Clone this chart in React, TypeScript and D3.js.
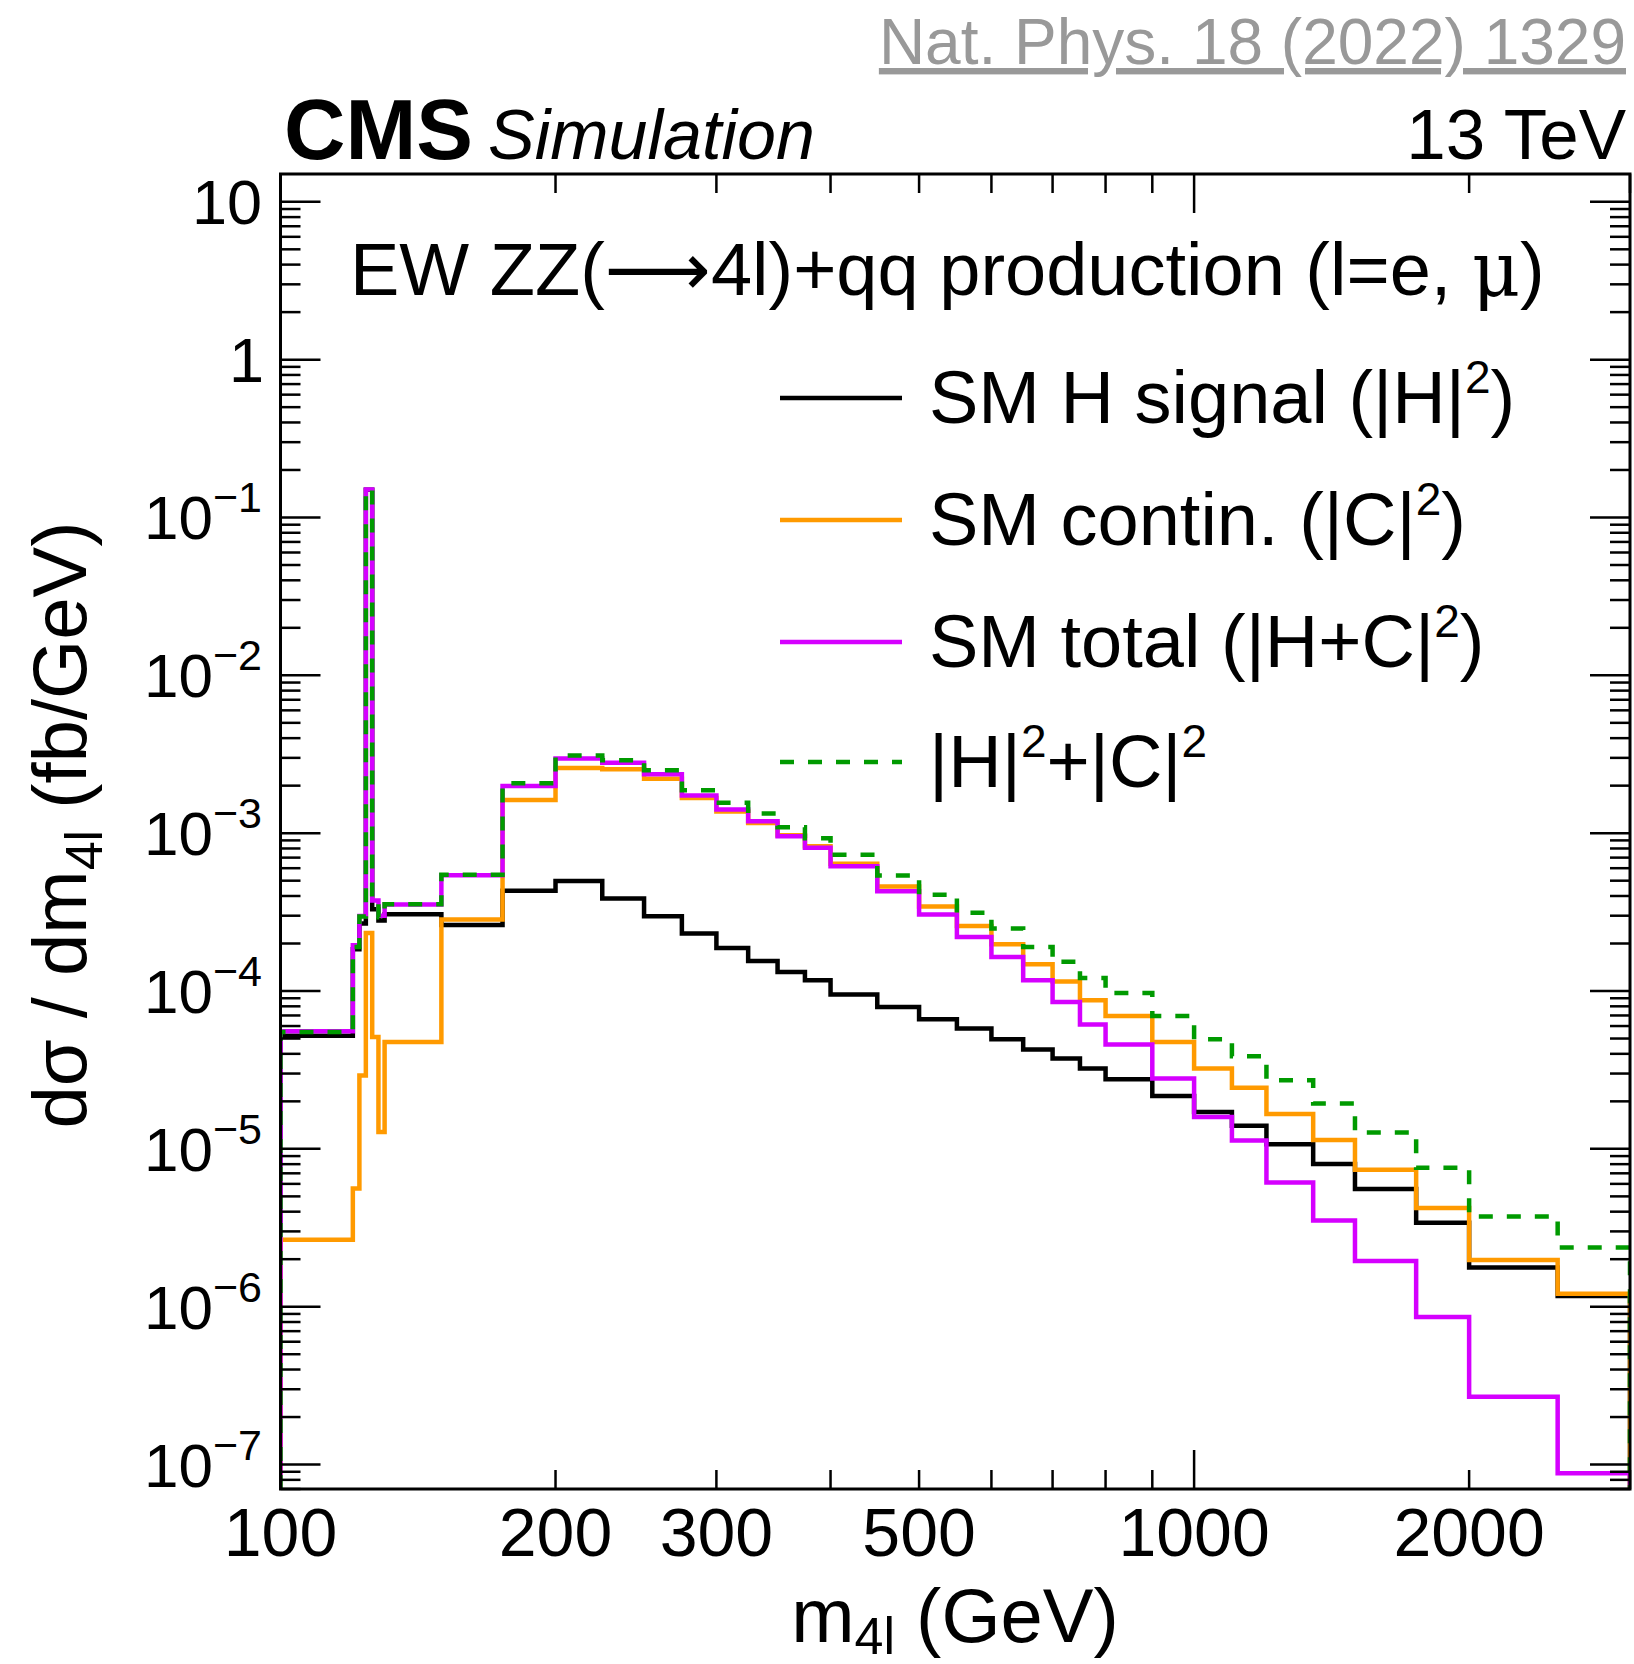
import React from "react";
import * as d3 from "d3";

// bin edges of m4l (GeV)
const binEdges = [100, 120, 122, 124, 126, 128, 130, 150, 175, 200, 225, 250, 275, 300, 325, 350, 375, 400, 450, 500, 550, 600, 650, 700, 750, 800, 900, 1000, 1100, 1200, 1350, 1500, 1750, 2000, 2500, 3000];

// SM H signal |H|^2
const smHSignal = [5.2e-5, 1.84e-4, 2.68e-4, 0.150, 3.3e-4, 2.8e-4, 3.07e-4, 2.62e-4, 4.31e-4, 4.97e-4, 3.85e-4, 2.98e-4, 2.31e-4, 1.87e-4, 1.55e-4, 1.32e-4, 1.17e-4, 9.5e-5, 7.93e-5, 6.62e-5, 5.78e-5, 4.95e-5, 4.26e-5, 3.73e-5, 3.23e-5, 2.76e-5, 2.16e-5, 1.71e-5, 1.4e-5, 1.07e-5, 8.02e-6, 5.57e-6, 3.4e-6, 1.77e-6, 1.17e-6];

// SM continuum |C|^2
const smContin = [2.66e-6, 5.6e-6, 2.92e-5, 2.33e-4, 5.12e-5, 1.28e-5, 4.76e-5, 2.84e-4, 1.62e-3, 2.59e-3, 2.54e-3, 2.21e-3, 1.67e-3, 1.37e-3, 1.16e-3, 9.7e-4, 8.25e-4, 6.4e-4, 4.6e-4, 3.43e-4, 2.58e-4, 1.98e-4, 1.48e-4, 1.15e-4, 8.75e-5, 6.95e-5, 4.75e-5, 3.23e-5, 2.44e-5, 1.66e-5, 1.14e-5, 7.36e-6, 4.22e-6, 1.98e-6, 1.21e-6];

// SM total |H+C|^2
const smTotal = [5.56e-5, 1.95e-4, 2.99e-4, 0.1505, 3.75e-4, 3.0e-4, 3.53e-4, 5.42e-4, 1.99e-3, 2.97e-3, 2.79e-3, 2.36e-3, 1.73e-3, 1.41e-3, 1.19e-3, 9.57e-4, 8.07e-4, 6.18e-4, 4.29e-4, 3.05e-4, 2.2e-4, 1.64e-4, 1.17e-4, 8.53e-5, 6.14e-5, 4.58e-5, 2.79e-5, 1.59e-5, 1.13e-5, 6.12e-6, 3.52e-6, 1.95e-6, 8.59e-7, 2.69e-7, 8.8e-8];

// |H|^2 + |C|^2
const sumHC = [5.5e-5, 1.9e-4, 2.97e-4, 0.1502, 3.8e-4, 2.93e-4, 3.55e-4, 5.46e-4, 2.07e-3, 3.1e-3, 2.9e-3, 2.5e-3, 1.87e-3, 1.56e-3, 1.33e-3, 1.09e-3, 9.29e-4, 7.3e-4, 5.4e-4, 4.08e-4, 3.13e-4, 2.49e-4, 1.9e-4, 1.53e-4, 1.21e-4, 9.73e-5, 6.95e-5, 4.95e-5, 3.86e-5, 2.72e-5, 1.94e-5, 1.27e-5, 7.58e-6, 3.73e-6, 2.37e-6];

const xTickLabels = [100, 200, 300, 500, 1000, 2000];
const yDecades = [-7, -6, -5, -4, -3, -2, -1, 0, 1];

const FONT = "'Liberation Sans', Arial, Helvetica, sans-serif";

export default function App() {
  const W = 1634, H = 1664;
  const L = 280.5, R = 1630, T = 174, B = 1489;
  const x = d3.scaleLog().domain([100, 3000]).range([L, R]);
  const y = d3.scaleLog().domain([7e-8, 15]).range([B, T]);

  const histPath = (vals: number[]) => {
    const pts: [number, number][] = [[x(binEdges[0]), B]];
    vals.forEach((v, i) => {
      pts.push([x(binEdges[i]), y(v)]);
      pts.push([x(binEdges[i + 1]), y(v)]);
    });
    pts.push([x(binEdges[binEdges.length - 1]), B]);
    return d3.line()(pts) || "";
  };

  const xTicks: { v: number; major: boolean }[] = [];
  [100, 1000].forEach((dec) => {
    for (let m = 1; m <= 9; m++) {
      const v = m * dec;
      if (v >= 100 && v <= 3000) xTicks.push({ v, major: m === 1 });
    }
  });

  const yTicks: { v: number; major: boolean }[] = [];
  for (let k = -8; k <= 1; k++) {
    for (let m = 1; m <= 9; m++) {
      const v = m * Math.pow(10, k);
      if (v >= 7e-8 * 0.999 && v <= 15) yTicks.push({ v, major: m === 1 });
    }
  }

  const series = [
    { vals: smHSignal, color: "#000000", dash: undefined as string | undefined },
    { vals: smContin, color: "#FF9A00", dash: undefined },
    { vals: smTotal, color: "#D500FF", dash: undefined },
    { vals: sumHC, color: "#009A00", dash: "14 14" },
  ];

  const LF = 74;
  const SUP = 46;
  const legend = [
    { color: "#000000", dash: undefined as string | undefined, label: (<><tspan>SM H signal (|H|</tspan><tspan dy={-30} fontSize={SUP}>2</tspan><tspan dy={30}>)</tspan></>) },
    { color: "#FF9A00", dash: undefined, label: (<><tspan>SM contin. (|C|</tspan><tspan dy={-30} fontSize={SUP}>2</tspan><tspan dy={30}>)</tspan></>) },
    { color: "#D500FF", dash: undefined, label: (<><tspan>SM total (|H+C|</tspan><tspan dy={-30} fontSize={SUP}>2</tspan><tspan dy={30}>)</tspan></>) },
    { color: "#009A00", dash: "14 14", label: (<><tspan>|H|</tspan><tspan dy={-30} fontSize={SUP}>2</tspan><tspan dy={30}>+|C|</tspan><tspan dy={-30} fontSize={SUP}>2</tspan></>) },
  ];
  const legendY = [398, 520, 642, 762];

  return (
    <svg width={W} height={H} viewBox={`0 0 ${W} ${H}`} style={{ position: "absolute", left: 0, top: 0, background: "#fff" }} fontFamily={FONT}>
      <rect x={0} y={0} width={W} height={H} fill="#fff" />
      <defs>
        <clipPath id="plotClip">
          <rect x={L} y={T} width={R - L} height={B - T} />
        </clipPath>
      </defs>

      {/* Header texts */}
      <text x={1626} y={64} textAnchor="end" fontSize={64} fill="#999999" style={{ textDecoration: "underline" }}>Nat. Phys. 18 (2022) 1329</text>
      <text x={284} y={159} fontSize={85} fontWeight="bold" fill="#000">CMS</text>
      <text x={488} y={159} fontSize={70} fontStyle="italic" fill="#000">Simulation</text>
      <text x={1626} y={159} textAnchor="end" fontSize={71} fill="#000">13 TeV</text>

      {/* histograms */}
      <g clipPath="url(#plotClip)">
        {series.map((s, i) => (
          <path key={i} d={histPath(s.vals)} fill="none" stroke={s.color} strokeWidth={4.5} strokeDasharray={s.dash} strokeLinejoin="miter" strokeLinecap="butt" />
        ))}
      </g>

      {/* ticks */}
      <g stroke="#000" strokeWidth={2.5}>
        {xTicks.map((t, i) => {
          const len = t.major ? 39 : 19;
          const px = x(t.v);
          return (
            <g key={"xt" + i}>
              <line x1={px} x2={px} y1={B} y2={B - len} />
              <line x1={px} x2={px} y1={T} y2={T + len} />
            </g>
          );
        })}
        {yTicks.map((t, i) => {
          const len = t.major ? 40 : 20;
          const py = y(t.v);
          return (
            <g key={"yt" + i}>
              <line x1={L} x2={L + len} y1={py} y2={py} />
              <line x1={R} x2={R - len} y1={py} y2={py} />
            </g>
          );
        })}
      </g>

      {/* frame */}
      <rect x={L} y={T} width={R - L} height={B - T} fill="none" stroke="#000" strokeWidth={3} />

      {/* x tick labels */}
      {xTickLabels.map((v) => (
        <text key={"xl" + v} x={x(v)} y={1556} textAnchor="middle" fontSize={68} fill="#000">{v}</text>
      ))}

      {/* y tick labels */}
      {yDecades.map((k) => {
        const py = y(Math.pow(10, k)) + 22;
        if (k === 1) return <text key={"yl" + k} x={262} y={py} textAnchor="end" fontSize={63}>10</text>;
        if (k === 0) return <text key={"yl" + k} x={264} y={py} textAnchor="end" fontSize={63}>1</text>;
        return (
          <text key={"yl" + k} x={262} y={py} textAnchor="end" fontSize={62}>
            <tspan>10</tspan>
            <tspan dy={-27} fontSize={43}>{"\u2212" + Math.abs(k)}</tspan>
          </text>
        );
      })}

      {/* axis titles */}
      <text x={955} y={1642} textAnchor="middle" fontSize={76} fill="#000">
        <tspan>m</tspan>
        <tspan dy={12} fontSize={52}>4l</tspan>
        <tspan dy={-12}> (GeV)</tspan>
      </text>
      <text transform="translate(86,825) rotate(-90)" textAnchor="middle" fontSize={76} fill="#000">
        <tspan>dσ / dm</tspan>
        <tspan dy={16} fontSize={52}>4l</tspan>
        <tspan dy={-16}> (fb/GeV)</tspan>
      </text>

      {/* process label */}
      <text x={350} y={295} fontSize={74} fill="#000">
        <tspan>EW ZZ(</tspan>
        <tspan fontFamily="'DejaVu Sans', sans-serif">⟶</tspan>
        <tspan>4l)+qq production (l=e, </tspan>
        <tspan fontFamily="'DejaVu Serif', serif">μ</tspan>
        <tspan>)</tspan>
      </text>

      {/* legend */}
      {legend.map((e, i) => (
        <g key={"lg" + i}>
          <line x1={780} x2={902} y1={legendY[i]} y2={legendY[i]} stroke={e.color} strokeWidth={4.5} strokeDasharray={e.dash} />
          <text x={929} y={legendY[i] + 25} fontSize={LF} fill="#000">{e.label}</text>
        </g>
      ))}
    </svg>
  );
}
